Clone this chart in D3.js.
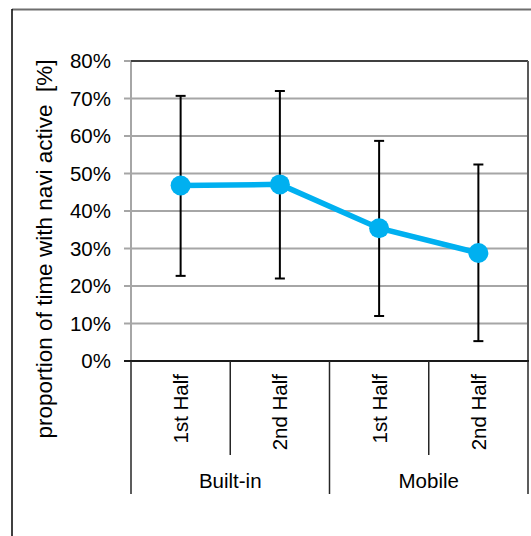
<!DOCTYPE html>
<meta charset='utf-8'>
<style>
  body { margin: 0; background: #fff; }
  svg { display: block; font-family: 'Liberation Sans', Arial, sans-serif; }
  .grid line { stroke: #a6a6a6; stroke-width: 2px; }
  .tick-label { font-size: 20.5px; fill: #000; }
  .y-title { font-size: 22.5px; fill: #000; }
</style>
<svg width='531' height='536'></svg>
<script src='https://cdn.jsdelivr.net/npm/d3@7/dist/d3.min.js'></script>
<script>
  // data
  var groups = ['Built-in', 'Mobile'];
  var halves = ['1st Half', '2nd Half'];
  var means = [0.468, 0.471, 0.354, 0.288];
  var upper = [0.707, 0.720, 0.587, 0.524];
  var lower = [0.227, 0.220, 0.120, 0.053];
  var yTicks = [0, 0.1, 0.2, 0.3, 0.4, 0.5, 0.6, 0.7, 0.8];

  var cats = [];
  groups.forEach((g, gi) => halves.forEach((h, hi) => {
    var i = gi * halves.length + hi;
    cats.push({ key: g + '|' + h, group: g, half: h, mean: means[i], hi: upper[i], lo: lower[i] });
  }));

  var svg = d3.select('svg');
  var plotL = 131, plotR = 528, plotT = 61, plotB = 361;

  var x = d3.scaleBand().domain(cats.map(d => d.key)).range([plotL, plotR]).padding(0);
  var y = d3.scaleLinear().domain([0, 0.8]).range([plotB, plotT]);
  var fmt = d3.format('.0%');

  // outer frame
  svg.append('line').attr('x1', 12).attr('x2', 531).attr('y1', 9.5).attr('y2', 9.5)
    .attr('stroke', '#6e6e6e').attr('stroke-width', 2);
  svg.append('line').attr('x1', 12).attr('x2', 12).attr('y1', 9).attr('y2', 536)
    .attr('stroke', '#000').attr('stroke-width', 1.5);

  // gridlines
  svg.append('g').attr('class', 'grid')
    .selectAll('line')
    .data(yTicks.filter(t => t > 0 && t < 0.8))
    .enter().append('line')
      .attr('x1', plotL).attr('x2', plotR)
      .attr('y1', d => y(d)).attr('y2', d => y(d));

  // y ticks and labels
  var yAxis = svg.append('g');
  yAxis.selectAll('line')
    .data(yTicks)
    .enter().append('line')
      .attr('x1', plotL - 7).attr('x2', plotL)
      .attr('y1', d => y(d)).attr('y2', d => y(d))
      .attr('stroke', '#a6a6a6').attr('stroke-width', 2);
  yAxis.selectAll('text')
    .data(yTicks)
    .enter().append('text')
      .attr('class', 'tick-label')
      .attr('x', 111).attr('y', d => y(d)).attr('dy', '0.36em')
      .attr('text-anchor', 'end')
      .text(d => fmt(d));

  // plot frame
  svg.append('line').attr('x1', plotL).attr('x2', plotL).attr('y1', plotT).attr('y2', plotB)
    .attr('stroke', '#a6a6a6').attr('stroke-width', 2);
  svg.append('line').attr('x1', plotL).attr('x2', plotR).attr('y1', y(0.8)).attr('y2', y(0.8))
    .attr('stroke', '#404040').attr('stroke-width', 2);
  svg.append('line').attr('x1', plotR).attr('x2', plotR).attr('y1', plotT).attr('y2', plotB)
    .attr('stroke', '#595959').attr('stroke-width', 2);

  // x axis line
  svg.append('line').attr('x1', plotL - 7).attr('x2', plotR + 1).attr('y1', plotB).attr('y2', plotB)
    .attr('stroke', '#1a1a1a').attr('stroke-width', 2);

  // category dividers
  var edges = cats.map((d, i) => ({ x: x(d.key), outer: i % halves.length === 0 }));
  edges.push({ x: plotR, outer: true });
  svg.append('g').selectAll('line')
    .data(edges)
    .enter().append('line')
      .attr('x1', d => d.x).attr('x2', d => d.x)
      .attr('y1', plotB).attr('y2', d => d.outer ? 494 : 455)
      .attr('stroke', '#262626').attr('stroke-width', 1.5);

  // sub-category labels
  svg.append('g').selectAll('text')
    .data(cats)
    .enter().append('text')
      .attr('class', 'tick-label')
      .attr('transform', d => 'translate(' + (x(d.key) + x.bandwidth() / 2) + ',374) rotate(-90)')
      .attr('dy', '0.36em')
      .attr('text-anchor', 'end')
      .text(d => d.half);

  // group labels
  svg.append('g').selectAll('text')
    .data(groups)
    .enter().append('text')
      .attr('class', 'tick-label')
      .attr('x', g => {
        var ks = cats.filter(c => c.group === g);
        return (x(ks[0].key) + x(ks[ks.length - 1].key) + x.bandwidth()) / 2;
      })
      .attr('y', 488)
      .attr('text-anchor', 'middle')
      .text(g => g);

  // y title
  svg.append('text')
    .attr('class', 'y-title')
    .attr('transform', 'translate(52,249) rotate(-90)')
    .attr('text-anchor', 'middle')
    .style('white-space', 'pre')
    .text('proportion of time with navi active  [%]');

  var cx = d => x(d.key) + x.bandwidth() / 2;

  // error bars
  var eb = svg.append('g').attr('stroke', '#000').attr('stroke-width', 2);
  eb.selectAll('line.v')
    .data(cats)
    .enter().append('line')
      .attr('x1', cx).attr('x2', cx)
      .attr('y1', d => y(d.lo)).attr('y2', d => y(d.hi));
  ['lo', 'hi'].forEach(k => {
    eb.selectAll('line.c' + k)
      .data(cats)
      .enter().append('line')
        .attr('x1', d => cx(d) - 5).attr('x2', d => cx(d) + 5)
        .attr('y1', d => y(d[k])).attr('y2', d => y(d[k]));
  });

  // mean line and markers
  var line = d3.line().x(cx).y(d => y(d.mean));
  svg.append('path')
    .datum(cats)
    .attr('d', line)
    .attr('fill', 'none')
    .attr('stroke', '#00b0f0')
    .attr('stroke-width', 5.5);
  svg.append('g').selectAll('circle')
    .data(cats)
    .enter().append('circle')
      .attr('cx', cx).attr('cy', d => y(d.mean))
      .attr('r', 10)
      .attr('fill', '#00b0f0');
</script>
